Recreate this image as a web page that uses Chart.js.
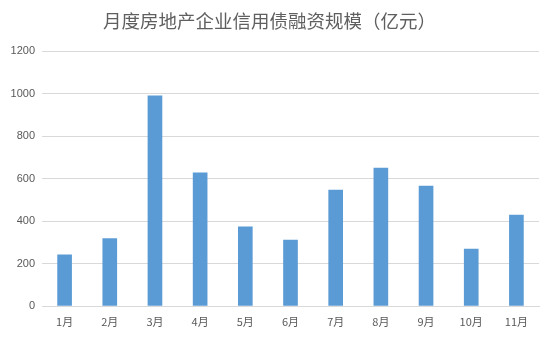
<!DOCTYPE html>
<html>
<head>
<meta charset="utf-8">
<script src="https://cdn.jsdelivr.net/npm/chart.js@4/dist/chart.umd.min.js"></script>
<style>
  html, body { margin: 0; padding: 0; background: #fff; }
  #wrap { width: 554px; height: 339px; }
</style>
</head>
<body>
<div id="wrap"><canvas id="myBarChart"></canvas></div>
<script>
var months = ['1月', '2月', '3月', '4月', '5月', '6月', '7月', '8月', '9月', '10月', '11月'];
var financing = [241, 317, 990, 627, 373, 311, 546, 649, 565, 268, 428];
var yTicks = [0, 200, 400, 600, 800, 1000, 1200];

var grey = '#595959';
var ctx = document.getElementById('myBarChart').getContext('2d');

var myBarChart = new Chart(ctx, {
    type: 'bar',
    data: {
        labels: months,
        datasets: [{
            label: '信用债融资规模',
            data: financing,
            backgroundColor: '#5B9BD5',
            barThickness: 14
        }]
    },
    options: {
        responsive: true,
        maintainAspectRatio: false,
        animation: false,
        layout: { padding: { left: 0, right: 15, top: 10, bottom: 0 } },
        plugins: {
            legend: { display: false },
            tooltip: { enabled: false },
            title: {
                display: true,
                text: '月度房地产企业信用债融资规模（亿元）',
                color: '#5f5f5f',
                font: { family: '"Noto Sans CJK SC", sans-serif', size: 18.5, weight: 'normal' },
                padding: { top: 0, bottom: 19 }
            }
        },
        scales: {
            x: {
                grid: { display: false, drawTicks: false },
                border: { display: true, color: '#d9d9d9', width: 1 },
                ticks: {
                    color: grey,
                    padding: 9,
                    font: { family: '"Noto Sans CJK SC", sans-serif', size: 11 }
                },
                afterFit: function (scale) { scale.height = 33; }
            },
            y: {
                min: 0,
                max: 1200,
                afterBuildTicks: function (scale) {
                    scale.ticks = yTicks.map(function (v) { return { value: v }; });
                },
                grid: { color: '#d9d9d9', drawTicks: false },
                border: { display: false },
                ticks: {
                    color: grey,
                    padding: 7,
                    font: { family: '"Liberation Sans", sans-serif', size: 11 },
                    callback: function (value) { return String(value); }
                },
                afterFit: function (scale) { scale.width = 42; }
            }
        }
    }
});
</script>
</body>
</html>
